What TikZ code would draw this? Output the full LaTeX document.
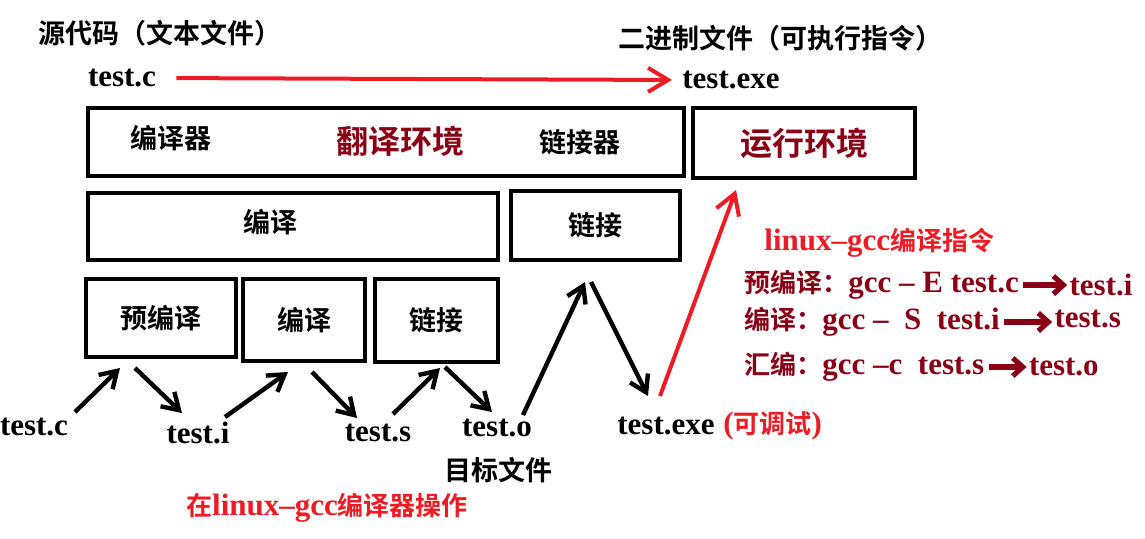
\documentclass[tikz,border=0pt]{standalone}
\usepackage{fontspec}
\setmainfont{Liberation Serif}
\newfontfamily\cjk{Noto Sans CJK SC}[BoldFont={Noto Sans CJK SC Bold}]
\usetikzlibrary{arrows.meta,positioning}

\definecolor{penred}{RGB}{237,28,36}
\definecolor{wine}{RGB}{136,0,21}

\newcommand{\zhtxt}[1]{{\cjk\fontsize{13}{15}\selectfont #1}}

\tikzset{
    file/.style={font=\fontsize{15.5}{18}\selectfont\bfseries, inner sep=0pt},
    zh/.style={font=\fontsize{13.5}{16}\selectfont\cjk\bfseries, inner sep=0pt},
    bigzh/.style={font=\fontsize{16}{19}\selectfont\cjk\bfseries, text=wine, inner sep=0pt},
    stage/.style={draw, line width=2.4pt, inner sep=0pt, outer sep=0pt},
    flow/.style={line width=2.2pt, -{Straight Barb[length=8pt,width=10pt]}},
    redflow/.style={penred, line width=2pt, -{Straight Barb[length=10pt,width=12pt]}},
    cmdflow/.style={wine, line width=2.6pt, -{Straight Barb[length=5pt,width=9pt]}, shorten <=2pt, shorten >=1pt},
}

\begin{document}
\begin{tikzpicture}[x=0.5pt,y=-0.5pt]
    \useasboundingbox (0,0) rectangle (1145,538);

    \node[zh, anchor=west] (srchead) at (38,33) {源代码（文本文件）};
    \node[zh, anchor=west] (binhead) at (618,38) {二进制文件（可执行指令）};

    \node[file] (srcfile) at (122,78) {test.c};
    \node[file] (binfile) at (731,80) {test.exe};
    \draw[redflow, shorten <=10pt, shorten >=5pt] (srcfile.east) -- (binfile.west);

    % environments
    \node[stage, minimum width=298pt, minimum height=34pt] (transenv) at (386,142) {};
    \node[zh] (compiler) at (171,138) {编译器};
    \node[bigzh] (transtxt) at (400,141) {翻译环境};
    \node[zh] (linker) at (580,142) {链接器};
    \node[stage, bigzh, minimum width=111pt, minimum height=35pt] (runenv) at (804,143) {运行环境};

    \node[stage, minimum width=205pt, minimum height=33.5pt] (compile) at (293,226.5) {};
    \node[zh] (compiletxt) at (270,222) {编译};
    \node[stage, zh, minimum width=84.5pt, minimum height=34.5pt] (link) at (595.5,225.5) {链接};

    \node[stage, zh, minimum width=75pt, minimum height=39pt] (pre) at (161,318) {预编译};
    \node[stage, zh, minimum width=61pt, minimum height=41pt] (comp) at (304,320) {编译};
    \node[stage, zh, minimum width=61.5pt, minimum height=41.5pt] (asm) at (436.5,320.5) {链接};

    % files
    \node[file] (fc) at (34,427) {test.c};
    \node[file] (fi) at (198,433) {test.i};
    \node[file] (fs) at (378,433) {test.s};
    \node[file] (fo) at (497,428) {test.o};
    \node[zh] (objfile) at (498,470) {目标文件};
    \node[file] (exe) at (666,426) {test.exe};
    \node[file, text=penred, anchor=west] (debug) at (723,426) {(\zhtxt{可调试})};
    \node[file, text=penred] (gccop) at (327,508) {\zhtxt{在}linux--gcc\zhtxt{编译器操作}};

    \draw[flow] ([shift={(41,-15)}]fc.center) -- ([shift={(-41,11)}]pre.south);
    \draw[flow] ([shift={(-26,11)}]pre.south) -- ([shift={(-16,-20)}]fi.center);
    \draw[flow] ([shift={(27,-16)}]fi.center) -- ([shift={(-16,11)}]comp.south);
    \draw[flow] ([shift={(8,11)}]comp.south) -- ([shift={(-21,-15)}]fs.center);
    \draw[flow] ([shift={(15,-19)}]fs.center) -- ([shift={(3.5,6)}]asm.south);
    \draw[flow] ([shift={(8.5,5)}]asm.south) -- ([shift={(-5,-16)}]fo.center);
    \draw[flow] ([shift={(26,-13)}]fo.center) -- ([shift={(-10.5,22)}]link.south);
    \draw[flow] ([shift={(-4.5,22)}]link.south) -- ([shift={(-18,-30)}]exe.center);
    \draw[redflow] ([shift={(-6,-30)}]exe.center) -- ([shift={(-68,12)}]runenv.south);

    % gcc commands
    \node[file, text=penred, anchor=west] (gcchead) at (764,243) {linux--gcc\zhtxt{编译指令}};
    \node[file, text=wine, anchor=west] (cmdpre) at (744,285) {\zhtxt{预编译：}gcc -- E test.c};
    \node[file, text=wine, right=25pt of cmdpre] (outi) {test.i};
    \node[file, text=wine, anchor=west] (cmdcomp) at (744,322) {\zhtxt{编译：}gcc --\ \ S\ \ test.i};
    \node[file, text=wine, right=27pt of cmdcomp, yshift=1.5pt] (outs) {test.s};
    \node[file, text=wine, anchor=west] (cmdasm) at (744,367) {\zhtxt{汇编：}gcc --c\ \ test.s};
    \node[file, text=wine, right=22pt of cmdasm] (outo) {test.o};
    \draw[cmdflow] (cmdpre.east) -- (cmdpre.east -| outi.west);
    \draw[cmdflow] (cmdcomp.east) -- (cmdcomp.east -| outs.west);
    \draw[cmdflow] (cmdasm.east) -- (cmdasm.east -| outo.west);

\end{tikzpicture}
\end{document}
